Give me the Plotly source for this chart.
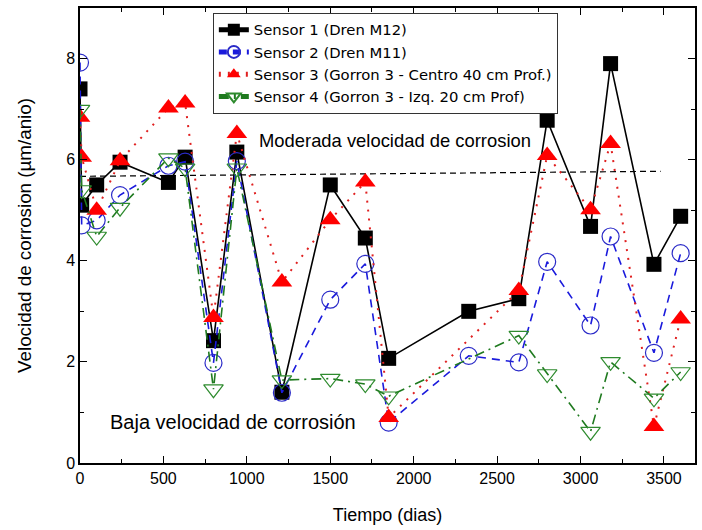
import plotly.graph_objects as go

# Time of each reading (days) and corrosion rate (µm/año) for every sensor
t_s1 = [0, 10, 100, 240, 530, 630, 800, 940, 1210, 1500, 1710, 1850, 2330, 2630, 2800, 3060, 3180, 3440, 3600]
v_s1 = [7.4, 5.1, 5.5, 5.95, 5.55, 6.05, 2.42, 6.15, 1.4, 5.5, 4.45, 2.07, 3.0, 3.25, 6.78, 4.68, 7.9, 3.93, 4.88]

t_s2 = [0, 10, 100, 240, 530, 630, 800, 940, 1210, 1500, 1710, 1850, 2330, 2630, 2800, 3060, 3180, 3440, 3600]
v_s2 = [7.92, 4.7, 4.8, 5.3, 5.88, 5.96, 1.98, 5.97, 1.39, 3.23, 3.94, 0.8, 2.12, 1.99, 3.98, 2.72, 4.48, 2.18, 4.15]

t_s3 = [0, 10, 100, 240, 530, 630, 800, 940, 1210, 1500, 1710, 1850, 2630, 2800, 3060, 3180, 3440, 3600]
v_s3 = [6.84, 6.05, 5.0, 5.98, 7.02, 7.12, 2.88, 6.52, 3.58, 4.81, 5.56, 0.9, 3.41, 6.08, 5.01, 6.32, 0.72, 2.85]

t_s4 = [0, 10, 100, 240, 530, 630, 800, 940, 1210, 1500, 1710, 1850, 2630, 2800, 3060, 3180, 3440, 3600]
v_s4 = [6.99, 5.4, 4.48, 5.05, 6.03, 5.83, 1.46, 5.83, 1.64, 1.67, 1.56, 1.32, 2.52, 1.76, 0.62, 2.0, 1.28, 1.8]

# Threshold between moderate and low corrosion rate
t_limit = [0, 3480]
v_limit = [5.67, 5.77]

names = [
    "Sensor 1 (Dren M12)",
    "Sensor 2 (Dren M11)",
    "Sensor 3 (Gorron 3 - Centro 40 cm Prof.)",
    "Sensor 4 (Gorron 3 - Izq. 20 cm Prof)",
]

font = "Liberation Sans, Arial, sans-serif"
legend_font = "DejaVu Sans, Liberation Sans, sans-serif"

fig = go.Figure()

fig.add_trace(go.Scatter(
    x=t_limit, y=v_limit, mode="lines", showlegend=False,
    line=dict(color="black", width=1.2, dash="6px,4px"), hoverinfo="skip",
))

fig.add_trace(go.Scatter(
    x=t_s1, y=v_s1, name=names[0], mode="lines+markers",
    line=dict(color="black", width=1.6),
    marker=dict(symbol="square", size=15, color="black"),
))
fig.add_trace(go.Scatter(
    x=t_s2, y=v_s2, name=names[1], mode="lines+markers",
    line=dict(color="#1a1adc", width=1.6, dash="8px,6px"),
    marker=dict(symbol="circle-open", size=17, color="#2a2ac8", line=dict(width=1.2)),
))
fig.add_trace(go.Scatter(
    x=t_s3, y=v_s3, name=names[2], mode="lines+markers",
    line=dict(color="#e02020", width=2, dash="2px,7px"),
    marker=dict(symbol="triangle-up", size=18, color="#ff0000"),
))
fig.add_trace(go.Scatter(
    x=t_s4, y=v_s4, name=names[3], mode="lines+markers",
    line=dict(color="#1f7a1f", width=1.6, dash="10px,5px,2px,5px"),
    marker=dict(symbol="triangle-down-open", size=17, color="#2e8b2e", line=dict(width=1.2)),
))

fig.add_annotation(x=1063, y=6.38, text="Moderada velocidad de corrosion",
                   showarrow=False, xanchor="left", yanchor="middle",
                   font=dict(family=font, size=18.4, color="black"))
fig.add_annotation(x=167, y=0.81, text="Baja velocidad de corrosión",
                   showarrow=False, xanchor="left", yanchor="middle",
                   font=dict(family=font, size=20, color="black"))

axis_common = dict(
    showline=True, linecolor="black", linewidth=1.5, mirror="allticks",
    ticks="inside", ticklen=7, tickwidth=1.2, tickcolor="black",
    showgrid=False, zeroline=False,
    tickfont=dict(family=font, size=16, color="black"),
)

fig.update_xaxes(
    range=[0, 3686], dtick=500, tick0=0,
    minor=dict(ticks="inside", dtick=250, ticklen=4, tickcolor="black", tickwidth=1),
    title=dict(text="Tiempo (dias)", font=dict(family=font, size=18, color="black"), standoff=22),
    **axis_common,
)
fig.update_yaxes(
    range=[0, 9.0], dtick=2, tick0=0,
    minor=dict(ticks="inside", dtick=1, ticklen=4, tickcolor="black", tickwidth=1),
    title=dict(text="Velocidad de corrosion (µm/anio)", font=dict(family=font, size=18.8, color="black"), standoff=30),
    **axis_common,
)

fig.update_layout(
    width=702, height=530,
    margin=dict(l=80, r=5, t=8, b=67),
    paper_bgcolor="white", plot_bgcolor="white",
    font=dict(family=font, color="black"),
    legend=dict(
        x=0.216, y=0.99, xanchor="left", yanchor="top",
        bgcolor="white", bordercolor="#333333", borderwidth=1,
        font=dict(family=legend_font, size=14.8, color="black"),
        itemsizing="constant", tracegroupgap=0,
    ),
)

fig.write_html("out.html")
